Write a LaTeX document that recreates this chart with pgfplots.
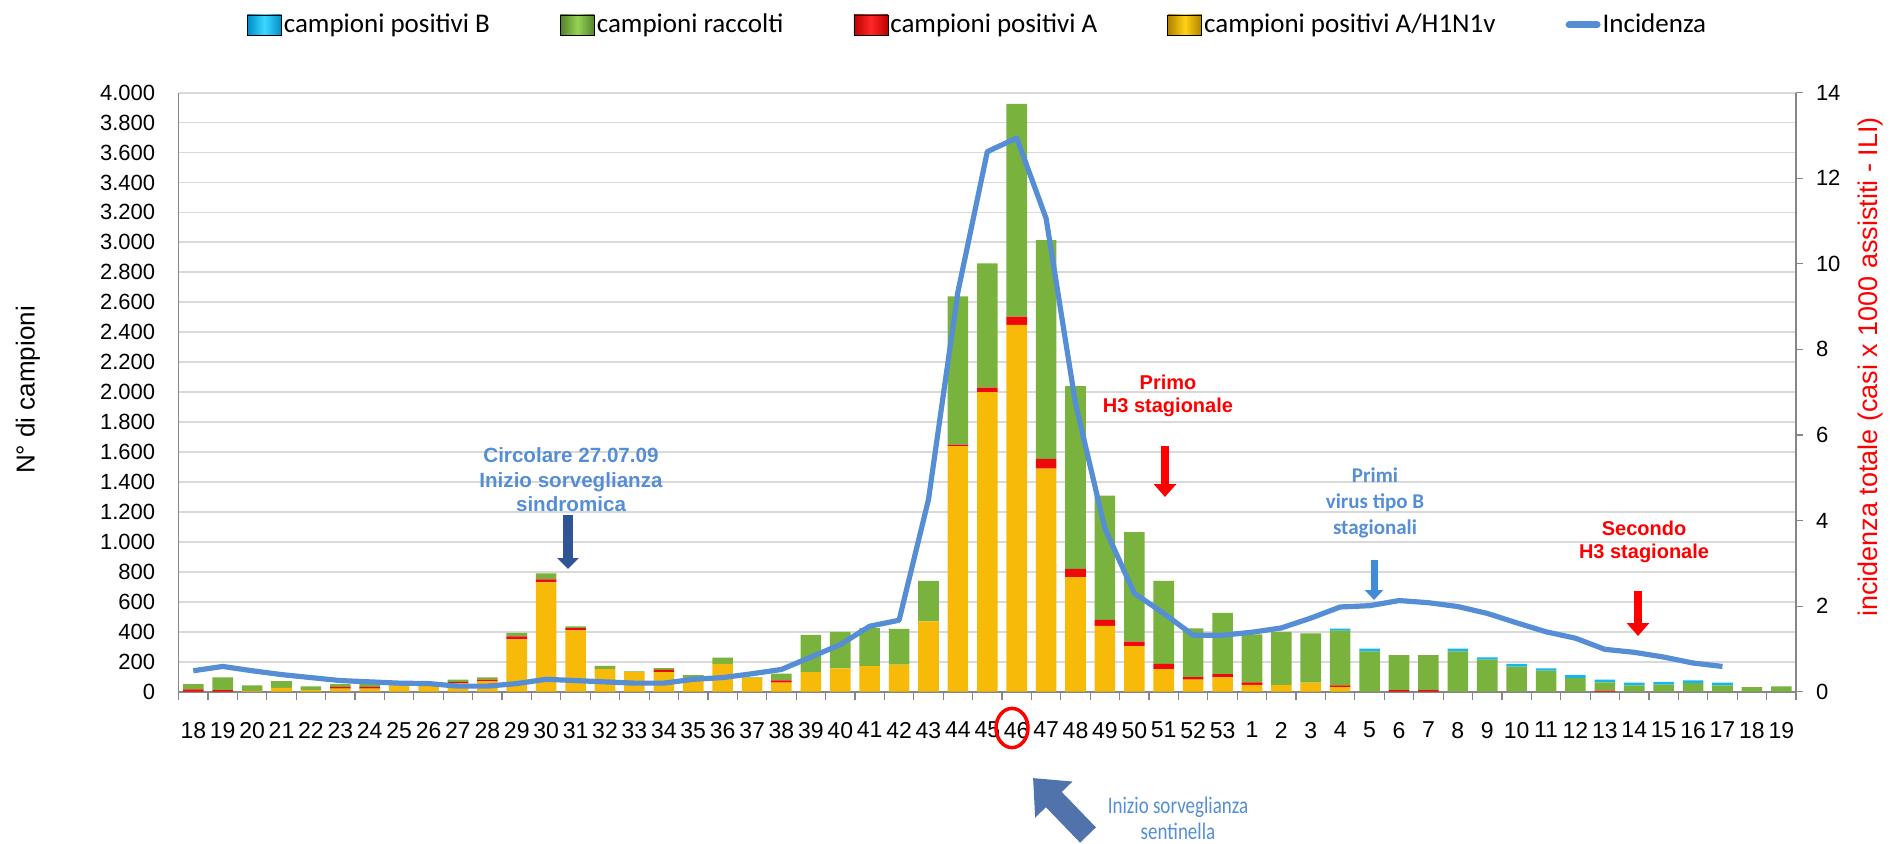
\documentclass[border=0pt]{standalone}
\usepackage{fontspec}
\setmainfont{Liberation Sans}
\newfontfamily\calibri{Carlito}
\usepackage{pgfplots}
\usepackage{pgfplotstable}
\pgfplotsset{compat=1.18}
\usetikzlibrary{arrows.meta}

\definecolor{incblue}{RGB}{85,142,213}
\definecolor{txtblue}{RGB}{85,142,213}
\definecolor{darkarrow}{RGB}{47,85,151}
\definecolor{midarrow}{RGB}{66,139,217}
\definecolor{bigarrow}{RGB}{79,115,170}
\definecolor{yfill}{RGB}{248,186,8}
\definecolor{gfill}{RGB}{122,178,62}
\definecolor{rfill}{RGB}{238,10,10}
\definecolor{cfill}{RGB}{20,182,236}
\definecolor{ydark}{RGB}{176,128,0}
\definecolor{ybright}{RGB}{255,210,20}
\definecolor{gdark}{RGB}{84,130,45}
\definecolor{gbright}{RGB}{150,210,85}
\definecolor{rdark}{RGB}{190,0,0}
\definecolor{rbright}{RGB}{255,40,40}
\definecolor{cdark}{RGB}{0,140,200}
\definecolor{cbright}{RGB}{60,215,255}
\definecolor{gridgray}{RGB}{217,217,217}
\definecolor{axgray}{RGB}{134,134,134}

\pgfplotstableread{
i wk yel red grn blu inc
0 18 0 15 35 0 0.49
1 19 0 10 85 0 0.59
2 20 5 0 38 0 0.49
3 21 25 0 45 0 0.40
4 22 10 0 25 0 0.33
5 23 20 12 18 0 0.26
6 24 20 12 18 0 0.23
7 25 40 0 5 0 0.20
8 26 40 0 5 0 0.19
9 27 55 10 15 0 0.13
10 28 70 10 15 0 0.13
11 29 350 20 22 0 0.19
12 30 730 20 40 0 0.29
13 31 410 15 12 0 0.26
14 32 150 0 22 0 0.23
15 33 130 0 5 0 0.20
16 34 130 15 12 0 0.20
17 35 70 0 40 0 0.29
18 36 185 0 42 0 0.33
19 37 90 0 5 0 0.42
20 38 60 15 45 0 0.52
21 39 130 0 250 0 0.81
22 40 155 0 245 0 1.10
23 41 170 0 255 0 1.53
24 42 180 0 240 0 1.67
25 43 470 0 270 0 4.49
26 44 1640 10 990 0 9.34
27 45 2000 30 830 0 12.62
28 46 2450 55 1420 0 12.94
29 47 1490 65 1460 0 11.06
30 48 765 55 1220 0 6.73
31 49 440 40 830 0 3.81
32 50 305 30 730 0 2.30
33 51 150 35 555 0 1.83
34 52 80 18 325 0 1.32
35 53 95 22 410 0 1.32
36 1 45 18 320 0 1.39
37 2 45 0 355 0 1.49
38 3 60 0 330 0 1.72
39 4 30 12 365 15 1.98
40 5 0 0 270 17 2.01
41 6 0 10 235 0 2.13
42 7 0 10 235 0 2.08
43 8 0 0 270 17 1.99
44 9 0 0 215 15 1.83
45 10 0 0 167 18 1.61
46 11 0 0 140 15 1.40
47 12 0 0 90 20 1.25
48 13 0 8 55 18 0.99
49 14 0 0 42 18 0.92
50 15 0 0 48 18 0.81
51 16 0 0 57 18 0.67
52 17 0 0 42 18 0.59
53 18 0 0 30 0 nan
54 19 0 0 36 0 nan
}\data

\begin{document}
\begin{tikzpicture}
\path[use as bounding box] (0,0) rectangle (947.5pt,421.5pt);

\begin{axis}[
  at={(89.3pt,75.65pt)}, anchor=south west,
  width=808.7pt, height=299.55pt, scale only axis,
  xmin=-0.5, xmax=54.5, ymin=0, ymax=4000,
  ybar stacked, bar width=0.7,
  axis x line*=bottom, axis y line*=left,
  axis line style={draw=axgray, line width=0.8pt, -},
  xtick={0,...,54},
  xticklabels from table={\data}{wk},
  minor xtick={-0.5,0.5,...,54.5},
  ytick={0,200,...,4000},
  major tick length=0pt, minor tick length=4pt, tick align=outside,
  minor tick style={draw=axgray, line width=0.6pt},
  ymajorgrids, grid style={draw=gridgray, line width=0.9pt},
  scaled y ticks=false,
  /pgf/number format/assume math mode=true,
  /pgf/number format/1000 sep={.},
  xticklabel style={font=\fontsize{11.5}{13}\selectfont, anchor=north, inner sep=0pt, yshift=-15pt},
  yticklabel style={font=\fontsize{11}{13}\selectfont, anchor=east, inner sep=0pt, xshift=-11.5pt},
]
\addplot[draw=none, fill=yfill] table[x=i,y=yel]{\data};
\addplot[draw=none, fill=rfill] table[x=i,y=red]{\data};
\addplot[draw=none, fill=gfill] table[x=i,y=grn]{\data};
\addplot[draw=none, fill=cfill] table[x=i,y=blu]{\data};
\end{axis}

\begin{axis}[
  at={(89.3pt,75.65pt)}, anchor=south west,
  width=808.7pt, height=299.55pt, scale only axis,
  xmin=-0.5, xmax=54.5, ymin=0, ymax=14,
  axis x line=none, axis y line*=right,
  axis line style={draw=axgray, line width=0.8pt, -},
  ytick={0,2,...,14},
  tick align=outside, major tick length=3.3pt,
  tick style={draw=axgray, line width=0.6pt},
  /pgf/number format/assume math mode=true,
  yticklabel style={font=\fontsize{11}{13}\selectfont, anchor=west, inner sep=0pt, xshift=6.5pt},
  legend style={at={(0.494,1.113)}, anchor=center, draw=none, fill=none,
    legend columns=-1, font=\calibri\fontsize{13.5}{15}\selectfont,
    /tikz/every even column/.append style={column sep=34pt},
    nodes={inner sep=1pt}},
  legend cell align=left,
]
\addlegendimage{legend image code/.code={\shade[left color=cdark, right color=cdark, middle color=cbright] (0pt,-5pt) rectangle (17pt,5pt);}}
\addlegendentry{campioni positivi B}
\addlegendimage{legend image code/.code={\shade[left color=gdark, right color=gdark, middle color=gbright] (0pt,-5pt) rectangle (17pt,5pt);}}
\addlegendentry{campioni raccolti}
\addlegendimage{legend image code/.code={\shade[left color=rdark, right color=rdark, middle color=rbright] (0pt,-5pt) rectangle (17pt,5pt);}}
\addlegendentry{campioni positivi A}
\addlegendimage{legend image code/.code={\shade[left color=ydark, right color=ydark, middle color=ybright] (0pt,-5pt) rectangle (17pt,5pt);}}
\addlegendentry{campioni positivi A/H1N1v}
\addplot[incblue, line width=2.6pt, line join=round, no markers,
  legend image code/.code={\draw[incblue, line width=3.5pt, line cap=round] (2pt,0pt) -- (16pt,0pt);}]
  table[x=i,y=inc]{\data};
\addlegendentry{Incidenza}
\end{axis}

% axis titles
\node[rotate=90, font=\fontsize{13}{15}\selectfont] at (14pt,226.5pt) {N° di campioni};
\node[rotate=90, font=\fontsize{13.5}{15}\selectfont, text=red] at (935pt,238pt) {incidenza totale (casi x 1000 assistiti - ILI)};

% annotations
\node[align=center, font=\bfseries\fontsize{10.3}{12.25}\selectfont, text=txtblue] at (285.5pt,181.5pt) {Circolare 27.07.09\\Inizio sorveglianza\\sindromica};
\draw[darkarrow, line width=5pt, -{Triangle[length=5.5pt,width=10.5pt]}] (284pt,164pt) -- (284pt,137pt);

\node[align=center, font=\bfseries\fontsize{10}{11.5}\selectfont, text=red] at (584pt,223.5pt) {Primo\\H3 stagionale};
\draw[red, line width=3.8pt, -{Triangle[length=6.5pt,width=11pt]}] (582.5pt,198.5pt) -- (582.5pt,173pt);

\node[align=center, font=\calibri\bfseries\fontsize{10.5}{13}\selectfont, text=txtblue] at (687.5pt,170pt) {Primi\\virus tipo B\\stagionali};
\draw[midarrow, line width=3.5pt, -{Triangle[length=5pt,width=9pt]}] (687pt,141.5pt) -- (687pt,121.5pt);

\node[align=center, font=\bfseries\fontsize{10}{11.5}\selectfont, text=red] at (822pt,150.75pt) {Secondo\\H3 stagionale};
\draw[red, line width=3.8pt, -{Triangle[length=6.5pt,width=11pt]}] (819pt,126pt) -- (819pt,103.5pt);

\draw[red, line width=1.75pt] (506pt,57.5pt) ellipse [x radius=8pt, y radius=9.8pt];

\draw[bigarrow, line width=11pt, -{Triangle[length=15pt,width=25pt]}] (544pt,4pt) -- (516.5pt,32.5pt);
\node[align=center, font=\calibri\fontsize{9.5}{13}\selectfont, text=txtblue] at (589pt,12.5pt) {\scalebox{1}[1.25]{Inizio sorveglianza}\\\scalebox{1}[1.25]{sentinella}};
\end{tikzpicture}
\end{document}
